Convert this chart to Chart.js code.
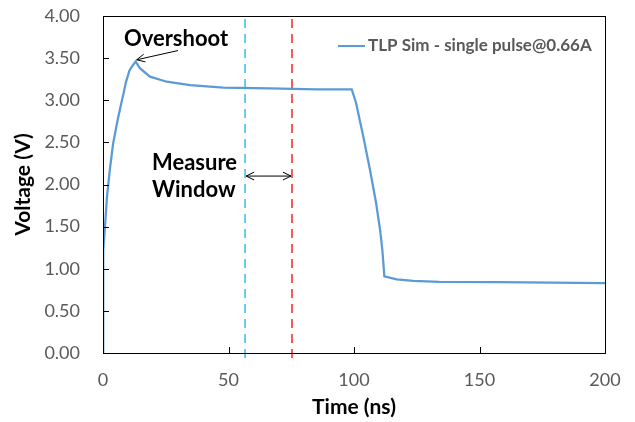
<!DOCTYPE html>
<html>
<head>
<meta charset="utf-8">
<script src="https://cdn.jsdelivr.net/npm/chart.js@4/dist/chart.umd.min.js"></script>
<style>
  html, body { margin: 0; padding: 0; background: #fff; }
  #wrap { width: 635px; height: 422px; }
</style>
</head>
<body>
<div id="wrap"><canvas id="tlpChart"></canvas></div>
<script>
// datos
const seriesLabel = 'TLP Sim - single pulse@0.66A';
const timeNs = [0, 0.1, 0.7, 1.6, 2.7, 4.0, 5.4, 6.0, 7.4, 8.4, 9.1, 10.5, 11.5, 13.0, 14.7, 18.7, 25.4, 34.7, 47.9, 66.5, 85, 99.1, 100.8, 103.7, 106.4, 108.8, 110.4, 111.3, 112.1, 117, 123.6, 134, 158, 200];
const voltage = [0, 1.22, 1.46, 1.86, 2.17, 2.48, 2.70, 2.79, 2.98, 3.11, 3.21, 3.35, 3.40, 3.46, 3.38, 3.28, 3.22, 3.18, 3.15, 3.14, 3.13, 3.13, 2.97, 2.57, 2.17, 1.78, 1.46, 1.22, 0.91, 0.875, 0.855, 0.843, 0.84, 0.83];
const windowStart = 56.6;
const windowEnd = 75.3;
const xTicks = [0, 50, 100, 150, 200];
const yTicks = [0, 0.5, 1, 1.5, 2, 2.5, 3, 3.5, 4];

const FONT = 'Lato';
const GRIS = '#595959';

let puntos = timeNs.map((t, i) => ({ x: t, y: voltage[i] }));

function flecha(ctx, x1, y1, x2, y2, ambos) {
    const L = 9, a = Math.PI / 7;
    const ang = Math.atan2(y2 - y1, x2 - x1);
    ctx.beginPath();
    ctx.moveTo(x1, y1);
    ctx.lineTo(x2, y2);
    ctx.moveTo(x2 - L * Math.cos(ang - a), y2 - L * Math.sin(ang - a));
    ctx.lineTo(x2, y2);
    ctx.lineTo(x2 - L * Math.cos(ang + a), y2 - L * Math.sin(ang + a));
    if (ambos) {
        ctx.moveTo(x1 + L * Math.cos(ang - a), y1 + L * Math.sin(ang - a));
        ctx.lineTo(x1, y1);
        ctx.lineTo(x1 + L * Math.cos(ang + a), y1 + L * Math.sin(ang + a));
    }
    ctx.stroke();
}

// marco, marcas interiores, leyenda y anotaciones
const extras = {
    id: 'extras',
    afterDraw(chart) {
        const ctx = chart.ctx;
        const xs = chart.scales.x, ys = chart.scales.y;
        const area = chart.chartArea;
        ctx.save();
        ctx.strokeStyle = '#000';
        ctx.lineWidth = 1;
        ctx.strokeRect(area.left + 0.5, area.top + 0.5, area.right - area.left, area.bottom - area.top);
        ctx.beginPath();
        xTicks.forEach(v => {
            const px = Math.round(xs.getPixelForValue(v)) + 0.5;
            ctx.moveTo(px, area.bottom);
            ctx.lineTo(px, area.bottom - 6);
        });
        yTicks.forEach(v => {
            const py = Math.round(ys.getPixelForValue(v)) + 0.5;
            ctx.moveTo(area.left, py);
            ctx.lineTo(area.left + 6, py);
        });
        ctx.stroke();

        // leyenda
        const ds = chart.data.datasets[0];
        ctx.strokeStyle = ds.borderColor;
        ctx.lineWidth = 2;
        ctx.beginPath();
        ctx.moveTo(338, 46);
        ctx.lineTo(365, 46);
        ctx.stroke();
        ctx.fillStyle = GRIS;
        ctx.font = 'bold 17px ' + FONT;
        ctx.textBaseline = 'middle';
        ctx.textAlign = 'left';
        ctx.fillText(ds.label, 368, 46);

        // anotaciones
        ctx.fillStyle = '#000';
        ctx.strokeStyle = '#000';
        ctx.lineWidth = 1;
        ctx.font = 'bold 22px ' + FONT;
        ctx.textAlign = 'center';
        ctx.fillText('Overshoot', xs.getPixelForValue(29.1), ys.getPixelForValue(3.73));
        flecha(ctx, xs.getPixelForValue(29.9), ys.getPixelForValue(3.59), xs.getPixelForValue(13.4), ys.getPixelForValue(3.48), false);
        ctx.textAlign = 'left';
        ctx.fillText('Measure', xs.getPixelForValue(19.5), ys.getPixelForValue(2.255));
        ctx.fillText('Window', xs.getPixelForValue(19.5), ys.getPixelForValue(1.935));
        const yf = ys.getPixelForValue(2.1);
        flecha(ctx, xs.getPixelForValue(windowStart) + 1, yf, xs.getPixelForValue(windowEnd) - 1, yf, true);
        ctx.restore();
    }
};

const ctx = document.getElementById('tlpChart').getContext('2d');
new Chart(ctx, {
    type: 'line',
    data: {
        datasets: [{
            label: seriesLabel,
            data: puntos,
            borderColor: '#5B9BD5',
            borderWidth: 2.25,
            pointRadius: 0,
            tension: 0,
            fill: false
        }, {
            label: 'inicio',
            data: [{ x: windowStart, y: -0.06 }, { x: windowStart, y: 4 }],
            borderColor: '#33BDF2',
            borderWidth: 1.5,
            borderDash: [9, 6],
            pointRadius: 0,
            clip: false
        }, {
            label: 'fin',
            data: [{ x: windowEnd, y: -0.06 }, { x: windowEnd, y: 4 }],
            borderColor: '#F42525',
            borderWidth: 1.5,
            borderDash: [9, 6],
            pointRadius: 0,
            clip: false
        }]
    },
    options: {
        responsive: true,
        maintainAspectRatio: false,
        animation: false,
        layout: { padding: { left: 0, right: 30, top: 16, bottom: 0 } },
        plugins: {
            legend: { display: false },
            tooltip: { enabled: false }
        },
        scales: {
            x: {
                type: 'linear',
                min: 0,
                max: 200,
                afterFit: function(scale) {
                    scale.height = 69;
                    scale.paddingLeft = 0;
                    scale.paddingRight = 0;
                },
                ticks: {
                    stepSize: 50,
                    color: GRIS,
                    padding: 16,
                    font: { family: FONT, size: 18 }
                },
                grid: { display: false, drawTicks: false },
                border: { display: false },
                title: {
                    display: true,
                    text: 'Time (ns)',
                    color: '#000',
                    font: { family: FONT, size: 21, weight: 'bold' },
                    padding: { top: 0, bottom: 2 }
                }
            },
            y: {
                min: 0,
                max: 4,
                afterFit: function(scale) {
                    scale.width = 103;
                    scale.paddingTop = 0;
                    scale.paddingBottom = 0;
                },
                ticks: {
                    stepSize: 0.5,
                    color: GRIS,
                    padding: 23,
                    font: { family: FONT, size: 18 },
                    callback: function(v) { return Number(v).toFixed(2); }
                },
                grid: { display: false, drawTicks: false },
                border: { display: false },
                title: {
                    display: true,
                    text: 'Voltage (V)',
                    color: '#000',
                    font: { family: FONT, size: 21, weight: 'bold' },
                    padding: { top: 11, bottom: 0 }
                }
            }
        }
    },
    plugins: [extras]
});
</script>
</body>
</html>
